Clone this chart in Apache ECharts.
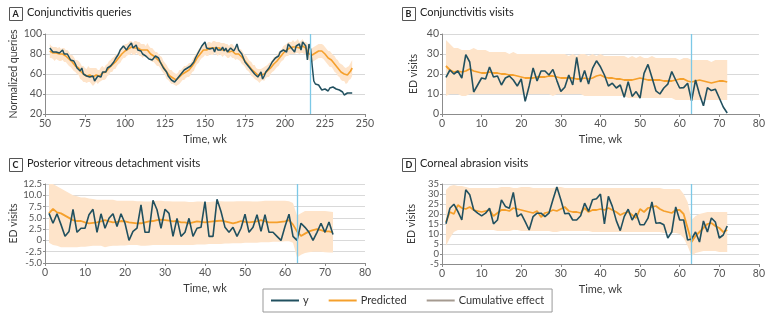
<!DOCTYPE html>
<html><head><meta charset="utf-8">
<script src="https://cdn.jsdelivr.net/npm/echarts@6/dist/echarts.min.js"></script>
<style>html,body{margin:0;padding:0;background:#fff}#c{width:768px;height:323px}</style>
</head><body><div id="c"></div>
<script>
// ---------- Panel A: Conjunctivitis queries (weeks 53..242) ----------
const startA = 53;
const queriesY = [
86,84,82,84,82,83,81,82,84,80,
79,80,77,74,72,73,70,66,68,63,
66,60,62,58,60,57,56,58,53,55,
58,60,57,62,64,62,66,67,68,70,
72,75,77,80,84,86,88,90,84,87,
85,91,86,88,89,84,86,83,80,79,
78,76,75,76,74,75,78,80,76,72,
70,66,64,62,58,60,54,56,52,53,
56,58,60,62,64,63,66,65,68,70,
72,76,79,82,84,88,86,92,86,84,
85,83,86,82,87,84,86,84,87,83,
86,82,84,86,84,83,86,90,84,82,
80,76,72,70,68,66,64,62,60,58,
57,59,62,55,58,62,64,66,68,72,
70,76,74,78,82,80,84,86,82,90,
92,86,88,82,88,86,90,84,92,90,
88,74,90,85,68,53,50,50,49,47,
44,42,45,47,43,46,44,47,46,45,
47,44,46,42,39,37,41,42,41,41];
const queriesPred = [
83,82,81,80,81,80,80,79,80,79,
78,77,75,73,72,70,68,67,66,63,
61,60,59,58,60,59,58,57,58,59,
57,58,60,61,60,62,64,66,68,69,
71,72,74,76,78,80,82,83,84,85,
86,87,85,86,87,86,85,84,83,84,
82,84,82,80,79,78,76,75,74,72,
70,67,65,62,60,58,57,56,55,54,
55,57,58,60,61,62,63,64,65,68,
70,73,76,78,80,82,84,85,84,85,
86,85,86,87,86,85,86,85,84,85,
84,83,82,84,83,82,80,82,80,79,
77,75,73,71,69,67,65,63,62,60,
59,58,59,60,60,62,63,64,66,68,
70,71,73,75,77,79,81,83,84,85,
86,86,87,86,87,88,86,87,88,86,
86,84,80,78,79,80,81,82,83,83,
83,82,80,78,76,75,74,72,70,68,
66,64,62,61,60,58,59,61,63,66];
const queriesHalfBand = [
7,6,6,7,6,6,7,6,6,7,
6,7,7,6,7,7,6,7,7,8,
7,8,7,7,8,7,8,9,8,7,
7,6,7,7,6,7,6,7,6,7,
6,7,6,6,7,6,6,7,6,6,
7,6,6,7,6,6,7,6,7,6,
6,7,6,6,7,6,6,7,6,6,
7,6,6,7,6,6,7,6,6,6,
6,7,6,6,7,6,6,7,6,6,
7,6,6,7,6,6,7,6,6,7,
6,6,7,6,6,7,6,6,7,6,
6,7,6,6,7,6,6,7,6,6,
7,6,6,7,6,6,7,6,7,6,
6,7,6,6,7,6,6,7,6,6,
7,6,6,7,6,6,7,6,6,7,
6,6,7,6,6,7,6,6,7,6,
6,7,6,6,7,7,7,7,7,7,
7,7,7,7,7,8,7,7,8,7,
8,7,8,8,7,8,8,7,8,8];
const interventionA = 215.6;

// ---------- Panels B, C, D (weeks 1..72) ----------
const startBCD = 1;
const conjVisitsY = [
18.3,22,20,21.5,18,29.7,26,11,14.5,18,
17.5,23.5,18.5,19,14.5,18,19,17,14,17.5,
6.3,14,23,16.5,21.5,21.5,19.5,22.3,16.7,11.3,
13.4,19.5,14.5,28.3,16,21.7,15,22.8,26.6,23.6,
19.5,14,15.4,13,14.5,8.4,16.2,8.8,11.2,8,
20.3,24.8,18.3,11.6,10,13,14.9,21.2,17,13,
13.2,15.4,6.6,17,9.9,4.1,13.2,11.7,12.4,8,
3.5,0.5];
const conjVisitsPred = [
24,22,21,21.5,21,21.5,22.5,21.5,21,20.5,
20.5,21,20.5,20.5,20,20,19.5,19.5,19,18.5,
18,18,18,18.5,18.5,18.5,19,19,18.5,18,
18,18,18,17.5,17.5,18,17.5,18,19,19.5,
18.5,18,18,17.5,17.5,17,17,17,17.5,18,
17.5,17,17,17,17,16.5,16.5,16.5,17,17.5,
17.5,16.5,16,16.5,17,16.5,16,15.5,16,16.5,
16.5,16];
const conjVisitsHi = [
37,35,33,33,32,32,32,33,32,32,
32,31,31,31,31,31,30,31,30,30,
30,30,30,30,30,30,30,30,30,30,
30,29,30,29,30,30,29,30,29,30,
29,29,29,29,29,29,28,29,28,29,
28,28,29,28,28,28,28,28,28,27,
28,28,27,27,27,27,27,26,27,27,
27,27];
const conjVisitsLo = [
9,10,10,10,9,9,10,10,10,10,
10,10,10,10,10,10,10,10,10,10,
10,10,10,10,10,10,10,9,10,10,
10,10,10,10,10,9,9,9,9,9,
9,9,9,9,9,9,8,8,8,8,
8,8,8,8,8,8,8,8,7,7,
7,7,7,7,7,7,7,7,7,7,
7,7];

const pvdY = [
6,3.8,5.9,3.5,0.9,2,6.9,1.8,2.7,2.7,
5.7,6.9,1.8,5.9,2.7,4.9,5.9,3.1,5.9,3.8,
0,2,2.7,7.9,1.8,1.8,8.9,6.8,2.7,6.9,
6,0.9,4.9,0.9,1.8,4.9,0.9,2.7,2.9,8.6,
0.9,0.9,9.1,6.4,2.9,1.8,2.9,0.9,2.7,5.8,
1.8,2.9,5.7,2,5.7,1.8,1.8,0.9,0,3.1,
5.8,0.9,0,3.8,2.9,1.8,0,1.8,3.8,1.8,
4.1,1.3];
const pvdPred = [
6,7,6.2,6,5.5,5,4.5,4.3,4.3,4,
3.8,3.9,4,4.2,4.5,4.2,4,4.1,4.3,4.2,
4,3.9,3.8,3.8,4,4.2,4.3,4.5,4.6,4.5,
4.4,4.2,4.3,4,4,3.8,4,4.2,4.1,4,
4.1,4.2,4.3,4.4,4.2,4,3.8,4,4.3,4.1,
4,4.1,4.2,4.5,4.2,4,4,4,4.1,4.2,
4.5,3.5,2,1,1.5,2,2.3,2.5,2.3,2,
2,1.8];
const pvdHi = [
12.5,12.5,12,11.5,11,10.5,10,9.8,9.5,9.5,
9.3,9.2,9,9,9,9,9,8.8,8.8,8.8,
8.8,8.8,8.7,8.7,8.6,8.6,8.7,8.8,8.8,8.7,
8.7,8.6,8.6,8.6,8.6,8.5,8.5,8.6,8.6,8.5,
8.5,8.6,8.7,8.7,8.6,8.6,8.6,8.7,8.7,8.7,
8.7,8.6,8.6,8.7,8.8,8.8,8.8,8.8,8.8,8.8,
8.7,8.3,5.5,6.0,6.5,6.5,6.5,6.5,6.5,6.5,
6.4,6.3];
const pvdLo = [
-0.5,-1,-1.2,-1.5,-1.5,-1.5,-1.5,-1.5,-1.4,-1.4,
-1.3,-1.2,-1.2,-1.2,-1.5,-1.3,-1.2,-1.2,-1.1,-1.1,
-1,-1,-1,-1.2,-1.2,-1.1,-1,-1,-1,-1,
-1,-1,-1,-1,-1,-1,-1,-0.9,-0.9,-0.9,
-0.8,-0.8,-0.8,-0.8,-0.7,-0.7,-0.6,-0.6,-0.6,-0.5,
-0.5,-0.5,-0.5,-0.4,-0.4,-0.4,-0.3,-0.3,-0.3,-0.2,
-0.2,-0.5,-3.8,-3.2,-2.8,-2.6,-2.5,-2.5,-2.5,-2.6,
-2.7,-2.7];

const abrasionY = [
15.1,22.9,24.9,21.3,17,32.1,29.6,22.1,20.4,19.1,
20.4,22.9,15.1,17,27.1,23.8,22.9,30.8,18.7,20.1,
16.2,12,18.7,20.4,20.4,18.7,20.4,27.1,33.5,27.1,
20.1,20.4,17,17,19.1,25.4,21.3,27.1,27.6,30,
15.1,28.8,23.8,16.7,11.7,18.7,22.4,17,20.4,14.6,
14.6,17.9,26,15.4,15.6,14.6,8,11,23.5,17,
17,7,7.5,11,6,16.5,11,18,16,8,
9.5,14];
const abrasionPred = [
16,21,20,24.5,23,22.5,23.5,22,21.5,21,
21.5,22,19,20.5,22,22,21.5,23,22.5,22,
21.5,21,20.5,21.5,18.5,20.5,21,22,21.5,22.5,
23.5,21.5,21,21,20.5,23,21,22,22,22.5,
22,23,22,21,19.5,20.5,21,19.5,18,22.5,
21,23,23.5,24,22.5,21.5,21,20.5,22,22,
20,13,6,9,11,13,15,15.5,14,13,
11,12];
const abrasionHi = [
32,34,34.5,34,34,33.5,33,33,33,33,
33,33,33,33,33.5,33.5,33.5,33,33,33.5,
33.5,33.5,33,33,33,33,33,33,33.5,33.5,
33,33,33,33,33,33,33,33,33,33,
33,33,33,33,33,33,33,33,33,33,
33,33,33,33,33,32.5,32.5,32.5,32.5,32.5,
30,26,17,19,20,20.5,21,21,21,21,
21,21];
const abrasionLo = [
4,8,11,12,12,12,12,12,12,12,
12,12,12,11.5,11.5,11.5,11.5,12,12,11.5,
11.5,11.5,11.5,11.5,11.5,11.5,11.5,11,11,11.5,
11.5,11.5,11.5,11.5,11.5,11.5,11.5,11,11,11,
11,11,11,11,11,11,11,11,11,11,
11,11,11,11,11,10.5,10.5,10.5,10.5,10,
8,4,-1,0.5,1,1.5,1.5,1.5,1.5,1,
1,1];
const interventionBCD = 63;

const panelTitles = ['Conjunctivitis queries','Conjunctivitis visits','Posterior vitreous detachment visits','Corneal abrasion visits'];
const panelLetters = ['A','B','C','D'];
const yAxisNames = ['Normalized queries','ED visits','ED visits','ED visits'];
const xAxisName = 'Time, wk';
const legendNames = ['y','Predicted','Cumulative effect'];

// ---------- styling ----------
const FONT = 'Lato';
const C_Y = '#21505f', C_PRED = '#f5a02c', C_BAND = '#fee4ca', C_VLINE = '#7cc8e6', C_CUM = '#a59a90';
const GRID = '#d9d9d9', AXIS = '#8c8c8c', TXT = '#3a3a3a';

const pairs = (start, arr) => arr.map((v, i) => [start + i, v]);

const grids = [
  {left: 45, top: 34, width: 320, height: 80},
  {left: 442, top: 34, width: 319, height: 80},
  {left: 45, top: 184, width: 320, height: 79},
  {left: 442, top: 184, width: 319, height: 80}
];
const xRanges = [[50,250,25],[0,80,10],[0,80,10],[0,80,10]];
const yRanges = [[20,100,20],[0,40,10],[-5,12.5,2.5],[-5,35,5]];

const xAxes = xRanges.map((r, i) => ({
  gridIndex: i, type: 'value', min: r[0], max: r[1], interval: r[2],
  name: xAxisName, nameLocation: 'middle', nameGap: 20,
  nameTextStyle: {fontFamily: FONT, fontSize: 11, color: TXT},
  axisLine: {onZero: false, lineStyle: {color: AXIS}},
  axisTick: {show: true, length: 3, lineStyle: {color: AXIS}},
  axisLabel: {fontFamily: FONT, fontSize: 10.5, color: '#555', margin: 4},
  splitLine: {show: false}
}));
const yAxes = yRanges.map((r, i) => ({
  gridIndex: i, type: 'value', min: r[0], max: r[1], interval: r[2],
  name: yAxisNames[i], nameLocation: 'middle', nameGap: i === 0 ? 26 : (i === 1 ? 23 : 25),
  nameTextStyle: {fontFamily: FONT, fontSize: 10.5, color: TXT},
  axisLine: {show: true, lineStyle: {color: AXIS}},
  axisTick: {show: true, length: 2, lineStyle: {color: AXIS}},
  axisLabel: {fontFamily: FONT, fontSize: i >= 2 ? 9.5 : 10.5, color: '#555', margin: 3,
    showMinLabel: true, showMaxLabel: true, hideOverlap: false, interval: 0,
    formatter: v => (i === 2 ? (v === 0 ? '0' : v.toFixed(1)) : String(v))},
  splitLine: {show: true, lineStyle: {color: GRID, width: 1}}
}));

const series = [];
function addPanel(idx, start, yArr, predArr, loArr, hiArr, vline) {
  const bandData = loArr.map((lo, k) => [start + k, lo, hiArr[k]]);
  series.push({
    type: 'custom', xAxisIndex: idx, yAxisIndex: idx, silent: true, z: 1,
    data: [bandData[0]],
    encode: {x: 0, y: [1, 2]},
    renderItem: function (params, api) {
      const top = bandData.map(d => api.coord([d[0], d[2]]));
      const bot = bandData.slice().reverse().map(d => api.coord([d[0], d[1]]));
      return {type: 'polygon', shape: {points: top.concat(bot)},
        style: {fill: C_BAND}, clipPath: {type: 'rect', shape: {
          x: params.coordSys.x, y: params.coordSys.y,
          width: params.coordSys.width, height: params.coordSys.height}}};
    }
  });
  series.push({
    name: 'Predicted', type: 'line', xAxisIndex: idx, yAxisIndex: idx, z: 3,
    data: pairs(start, predArr), symbol: 'none', color: C_PRED,
    lineStyle: {color: C_PRED, width: idx === 0 ? 1.6 : 1.8}
  });
  series.push({
    name: 'y', type: 'line', xAxisIndex: idx, yAxisIndex: idx, z: 4,
    data: pairs(start, yArr), symbol: 'none', color: C_Y,
    lineStyle: {color: C_Y, width: idx === 0 ? 1.5 : 1.6},
    markLine: {silent: true, symbol: 'none', label: {show: false},
      lineStyle: {color: C_VLINE, width: 1.3, type: 'solid'}, data: [{xAxis: vline}]}
  });
}
const loA = queriesPred.map((p, k) => p - queriesHalfBand[k]);
const hiA = queriesPred.map((p, k) => p + queriesHalfBand[k]);
addPanel(0, startA, queriesY, queriesPred, loA, hiA, interventionA);
addPanel(1, startBCD, conjVisitsY, conjVisitsPred, conjVisitsLo, conjVisitsHi, interventionBCD);
addPanel(2, startBCD, pvdY, pvdPred, pvdLo, pvdHi, interventionBCD);
addPanel(3, startBCD, abrasionY, abrasionPred, abrasionLo, abrasionHi, interventionBCD);
series.push({name: 'Cumulative effect', type: 'line', xAxisIndex: 0, yAxisIndex: 0, data: [], color: C_CUM, lineStyle: {color: C_CUM}});

const titlePos = [[9, 7], [402, 7], [9, 158], [402, 158]];
const graphic = [];
titlePos.forEach((p, i) => {
  graphic.push({type: 'rect', left: p[0], top: p[1], shape: {width: 13, height: 13},
    style: {fill: '#fff', stroke: '#555', lineWidth: 1}});
  graphic.push({type: 'text', left: p[0] + 3.5, top: p[1] + 2.5,
    style: {text: panelLetters[i], font: 'bold 9px ' + FONT, fill: '#222'}});
  graphic.push({type: 'text', left: p[0] + 18, top: p[1],
    style: {text: panelTitles[i], font: '11px ' + FONT, fill: '#222'}});
});

const option = {
  animation: false,
  backgroundColor: '#fff',
  grid: grids,
  xAxis: xAxes,
  yAxis: yAxes,
  series: series,
  graphic: graphic,
  legend: {
    data: legendNames, left: 263, top: 289, orient: 'horizontal',
    icon: 'rect', itemWidth: 28, itemHeight: 2, itemGap: 20,
    borderColor: '#999', borderWidth: 1, padding: [6, 8, 6, 8],
    textStyle: {fontFamily: FONT, fontSize: 11, color: '#333', padding: [0, 0, 0, -1]},
    selectedMode: false
  }
};
const chart = echarts.init(document.getElementById('c'), null, {renderer: 'canvas'});
chart.setOption(option);
</script></body></html>
